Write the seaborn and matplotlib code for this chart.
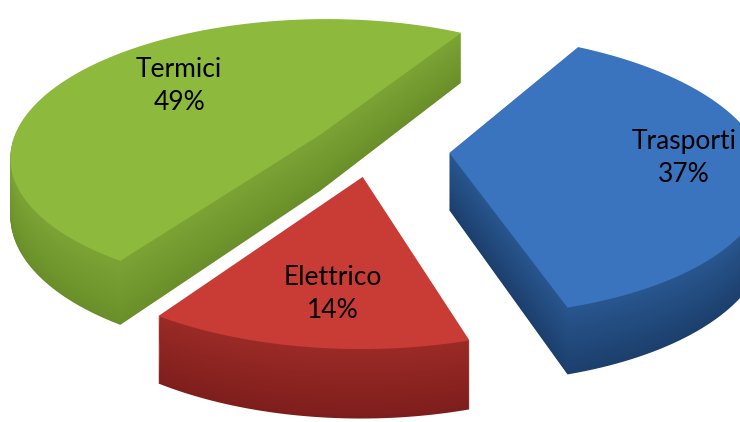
import numpy as np
import matplotlib
matplotlib.use("Agg")
import matplotlib.pyplot as plt
from matplotlib.transforms import Transform
from matplotlib.path import Path
import seaborn as sns

# ---- data ----
categories = ["Termici", "Elettrico", "Trasporti"]
shares = [49, 14, 37]
pct_labels = ["49%", "14%", "37%"]

# ---- style ----
top_colors = ["#8DB93D", "#C83C35", "#3A73BE"]
side_top_colors = ["#7BA334", "#9A2A26", "#28568F"]
side_bottom_colors = ["#6A8F2A", "#7E1E1C", "#1C3F6C"]
explode = [0.20, 0.20, 0.25]
label_radius = [0.63, 0.72, 0.75]
label_dang = [-6.0, 2.0, 4.0]
START = 60
CX, CY = 372, 149      # pixel centre of (unexploded) pie
RX, RY = 310, 137      # pixel half-axes at the pie plane centre
PERSP = 0.15           # perspective strength
DEPTH = 57             # thickness in pixels
NLAYERS = 70

sns.set_theme(style="white")
plt.rcParams["font.family"] = ["Lato", "DejaVu Sans"]


class Persp(Transform):
    input_dims = 2
    output_dims = 2
    is_separable = False
    has_inverse = False

    def __init__(self, z):
        super().__init__()
        self.z = z

    def transform_non_affine(self, values):
        xy = np.asarray(values, dtype=float).reshape(-1, 2)
        u, v = xy[:, 0], xy[:, 1]
        w = 1.0 + PERSP * v
        X = CX + RX * u / w
        Y = CY - RY * v / w + self.z / w
        return np.column_stack([X, Y])

    def transform_path_non_affine(self, path):
        pts = []
        for seg, code in path.iter_bezier():
            if code == Path.MOVETO:
                pts.append(seg.control_points[-1:])
            else:
                ts = np.linspace(0, 1, 24)[1:]
                pts.append(seg(ts))
        verts = np.vstack(pts)
        return Path(self.transform_non_affine(verts))


fig = plt.figure(figsize=(7.4, 4.22), dpi=100)
ax = fig.add_axes([0, 0, 1, 1])


def mix(c1, c2, t):
    a = np.array(matplotlib.colors.to_rgb(c1))
    b = np.array(matplotlib.colors.to_rgb(c2))
    return tuple(a * (1 - t) + b * t)


zs = np.linspace(DEPTH, 0.0, NLAYERS)
for i, z in enumerate(zs):
    t = i / (NLAYERS - 1)
    if z == 0.0:
        cols = top_colors
    else:
        cols = [mix(b, s, t) for b, s in zip(side_bottom_colors, side_top_colors)]
    wedges, _ = ax.pie(shares, explode=explode, startangle=START,
                       colors=cols, counterclock=True,
                       wedgeprops=dict(linewidth=0, antialiased=True))
    for wdg in wedges:
        wdg.set_transform(Persp(z) + ax.transData)

# labels
top_t = Persp(0.0)
cum = START
for k, (name, pct, s) in enumerate(zip(categories, pct_labels, shares)):
    ang = cum + 360.0 * s / sum(shares) / 2.0
    cum += 360.0 * s / sum(shares)
    mid = np.array([np.cos(np.radians(ang)), np.sin(np.radians(ang))])
    a2 = np.radians(ang + label_dang[k])
    d = np.array([np.cos(a2), np.sin(a2)])
    p = mid * explode[k] + d * label_radius[k]
    x, y = top_t.transform_non_affine(p[None, :])[0]
    ax.text(x, y, f"{name}\n{pct}", ha="center", va="center",
            fontsize=19, color="black", linespacing=1.4)

ax.set_aspect("auto")
ax.set_xlim(0, 740)
ax.set_ylim(422, 0)
ax.axis("off")
fig.savefig("out.png", dpi=100, facecolor="white")
